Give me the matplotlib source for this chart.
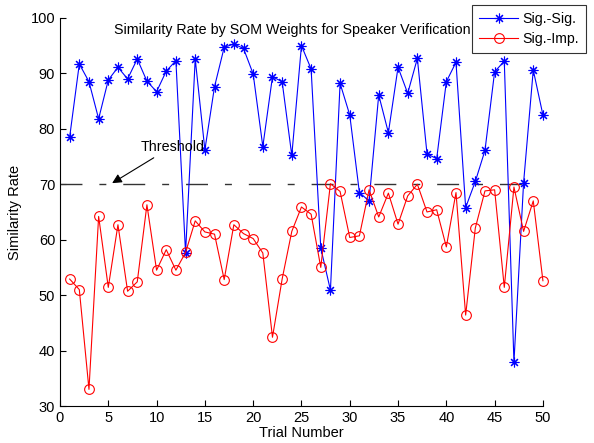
import numpy as np
import matplotlib
matplotlib.use('Agg')
import matplotlib.pyplot as plt

plt.rcParams['font.family'] = ['Liberation Sans', 'DejaVu Sans']

trials = np.arange(1, 51)

sig_sig = [78.5, 91.7, 88.5, 81.8, 88.8, 91.1, 89.0, 92.6, 88.6, 86.7,
           90.4, 92.3, 57.6, 92.6, 76.2, 87.6, 94.7, 95.3, 94.5, 89.9,
           76.8, 89.4, 88.5, 75.2, 95.0, 90.8, 58.5, 50.9, 88.2, 82.5,
           68.5, 67.0, 86.1, 79.3, 91.1, 86.4, 92.7, 75.5, 74.6, 88.5,
           92.0, 65.8, 70.5, 76.1, 90.3, 92.2, 37.9, 70.3, 90.6, 82.5]

sig_imp = [52.9, 51.0, 33.0, 64.2, 51.4, 62.7, 50.7, 52.4, 66.3, 54.5,
           58.2, 54.5, 57.7, 63.4, 61.4, 61.0, 52.8, 62.7, 61.1, 60.2,
           57.6, 42.4, 52.9, 61.5, 65.9, 64.6, 55.0, 70.1, 68.7, 60.4,
           60.7, 69.0, 64.1, 68.4, 62.8, 67.9, 70.0, 65.0, 65.4, 58.7,
           68.5, 46.4, 62.1, 68.8, 69.0, 51.4, 69.5, 61.5, 67.0, 52.6]

thresh_x = [0, 49.5]
thresh_y = [70, 70]

fig = plt.figure(figsize=(5.94, 4.43), dpi=100)
ax = fig.add_axes([0.101, 0.0835, 0.813, 0.876])

ax.plot(thresh_x, thresh_y, color='#333333', lw=1.0,
        dashes=(15.8, 12.2, 5.0, 12.2), dash_capstyle='butt')

ax.plot(trials, sig_sig, color='blue', lw=0.8, marker=(8, 2, 0), ms=7,
        mew=0.8, label='Sig.-Sig.', clip_on=False)
ax.plot(trials, sig_imp, color='red', lw=0.8, marker='o', ms=7,
        mfc='none', mew=0.8, label='Sig.-Imp.', clip_on=False)

ax.set_xlim(0, 50)
ax.set_ylim(30, 100)
ax.set_xticks(np.arange(0, 51, 5))
ax.set_yticks(np.arange(30, 101, 10))
ax.spines['top'].set_visible(False)
ax.spines['right'].set_visible(False)
ax.tick_params(direction='in', length=4, labelsize=10.5, width=0.8)
ax.set_xlabel('Trial Number', fontsize=10.5, labelpad=1)
ax.set_ylabel('Similarity Rate', fontsize=10.5, labelpad=6)

ax.text(24.1, 97.9, 'Similarity Rate by SOM Weights for Speaker Verification',
        ha='center', va='center', fontsize=10.3)

ax.annotate('Threshold', xy=(5.4, 70.2), xytext=(8.3, 76.8),
            fontsize=10.3, va='center', ha='left',
            arrowprops=dict(arrowstyle='-|>', color='black', lw=0.8,
                            mutation_scale=14, shrinkA=2, shrinkB=0))

leg = ax.legend(loc='upper right', bbox_to_anchor=(0.986, 0.988),
                bbox_transform=fig.transFigure, fontsize=10.2,
                frameon=True, fancybox=False, edgecolor='black',
                handlelength=2.8, borderpad=0.5, labelspacing=0.4,
                handletextpad=0.25, borderaxespad=0)
leg.get_frame().set_linewidth(0.8)

fig.savefig('out.png', dpi=100)
